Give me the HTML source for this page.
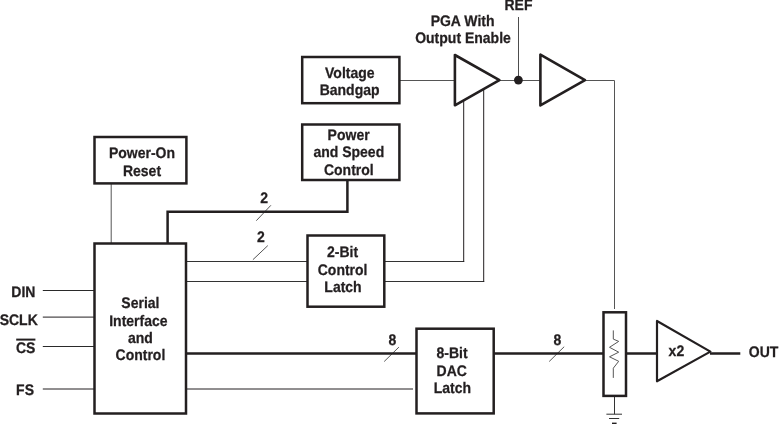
<!DOCTYPE html>
<html><head><meta charset="utf-8"><style>
html,body{margin:0;padding:0;background:#fff;width:779px;height:424px;overflow:hidden}
svg{display:block;will-change:transform}
text{text-rendering:geometricPrecision;font-family:"Liberation Sans",sans-serif;font-weight:bold;font-size:14px;fill:#231f20;stroke:#231f20;stroke-width:0.25px}
</style></head><body>
<svg width="779" height="424" viewBox="0 0 779 424">
<g fill="none" stroke-width="1">
  <path stroke="#555" d="M399.4 80.5H455M500 80.5H540.4M585 80.5H614.5V309"/>
  <path stroke="#4d4d4d" d="M518.5 17V80"/>
  <path stroke="#555" d="M111.2 183V243.5"/>
  <path stroke="#333" d="M186 261.5H307.3M186 281.5H307.3"/>
  <path stroke="#333" d="M384.2 261.5H464.2"/>
  <path stroke="#333" d="M384.2 281.5H484.2"/>
  <path stroke="#231f20" d="M463.7 262V100.5M483.7 282V89.3"/>
  <path stroke="#2a2a2a" d="M42.8 290.5H94.5M42.8 346.5H94.5"/>
  <path stroke="#231f20" d="M42.8 317.1H94.5M42.8 389H94.5M186 389H413"/>
  <path stroke="#333" d="M614.5 396V414.2M606.4 414.2H622M609 418.5H619.2"/><path stroke="#231f20" stroke-width="1.6" d="M612 423.4H616.6"/>
  <path stroke="#555" d="M256.3 220.7L270.9 205.3M252.9 259.7L267.8 245.6M384.2 361.5L398.9 347.1M549.2 361.5L564.2 346.7"/>
  <path stroke="#555" d="M613.3 330.4V339.1L618.7 341.4L609.5 347.3L618.7 352.2L609.5 356.8L618.7 361.3L613.3 368.2V377.9"/>
</g>
<g fill="none" stroke="#231f20" stroke-width="2.5">
  <path d="M167.6 243.5V211.8H347.4V180"/>
  <path d="M186 353.6H416.5M494.2 353.6H603.5M626 353.6H657M710 353.6H740.3"/>
  <rect x="302.2" y="57" width="97.2" height="46.2"/>
  <rect x="302.2" y="124.5" width="97.2" height="55.5"/>
  <rect x="94.5" y="137" width="91.9" height="46.4"/>
  <rect x="94.5" y="243.5" width="91.5" height="170"/>
  <rect x="307.5" y="235.5" width="76.8" height="71.2"/>
  <rect x="416.5" y="328.7" width="77.2" height="84.7"/>
  <rect x="603.5" y="312.3" width="22.5" height="83.6"/>
  <path stroke-width="2.6" stroke-linejoin="round" d="M454.9 55V105.3L499.4 80.2Z"/>
  <path stroke-width="2.6" stroke-linejoin="round" d="M540.4 54.6V105.4L585 80.2Z"/>
  <path stroke-width="2.2" stroke-linejoin="round" d="M657 321V381.3L710.4 351.6Z"/>
</g>
<circle cx="518.4" cy="80.1" r="4.4" fill="#231f20"/>
<path d="M16.2 339.6H35.4" stroke="#231f20" stroke-width="2"/>

 <text transform="translate(518.5 10) scale(1 1.09)" text-anchor="middle">REF</text>
 <text transform="translate(462.6 26.0) scale(1 1.09)" text-anchor="middle">PGA With</text>
 <text transform="translate(463 42.5) scale(1 1.09)" text-anchor="middle">Output Enable</text>
 <text transform="translate(349.8 77.8) scale(1 1.09)" text-anchor="middle">Voltage</text>
 <text transform="translate(349.6 94.7) scale(1 1.09)" text-anchor="middle">Bandgap</text>
 <text transform="translate(348.6 139.5) scale(1 1.09)" text-anchor="middle">Power</text>
 <text transform="translate(348.8 156.8) scale(1 1.09)" text-anchor="middle">and Speed</text>
 <text transform="translate(348.8 175.1) scale(1 1.09)" text-anchor="middle">Control</text>
 <text transform="translate(142 157.6) scale(1 1.09)" text-anchor="middle">Power-On</text>
 <text transform="translate(142 175.6) scale(1 1.09)" text-anchor="middle">Reset</text>
 <text transform="translate(140.4 307.6) scale(1 1.09)" text-anchor="middle">Serial</text>
 <text transform="translate(138.4 326.0) scale(1 1.09)" text-anchor="middle">Interface</text>
 <text transform="translate(140.4 342.8) scale(1 1.09)" text-anchor="middle">and</text>
 <text transform="translate(140.4 360.0) scale(1 1.09)" text-anchor="middle">Control</text>
 <text transform="translate(342.6 257.4) scale(1 1.09)" text-anchor="middle">2-Bit</text>
 <text transform="translate(342.6 275.0) scale(1 1.09)" text-anchor="middle">Control</text>
 <text transform="translate(343.0 292.2) scale(1 1.09)" text-anchor="middle">Latch</text>
 <text transform="translate(452.0 357.7) scale(1 1.09)" text-anchor="middle">8-Bit</text>
 <text transform="translate(451.7 375.6) scale(1 1.09)" text-anchor="middle">DAC</text>
 <text transform="translate(452.3 393.0) scale(1 1.09)" text-anchor="middle">Latch</text>
 <text transform="translate(264.2 202.7) scale(1 1.09)" text-anchor="middle">2</text>
 <text transform="translate(261 242.3) scale(1 1.09)" text-anchor="middle">2</text>
 <text transform="translate(392.4 344.8) scale(1 1.09)" text-anchor="middle">8</text>
 <text transform="translate(557.5 344.8) scale(1 1.09)" text-anchor="middle">8</text>
 <text transform="translate(676.4 356.1) scale(1 1.09)" text-anchor="middle">x2</text>
 <text transform="translate(35.4 296.9) scale(1 1.09)" text-anchor="end">DIN</text>
 <text transform="translate(37.8 324.6) scale(1 1.09)" text-anchor="end">SCLK</text>
 <text transform="translate(35.4 353.1) scale(1 1.09)" text-anchor="end">CS</text>
 <text transform="translate(34 395.4) scale(1 1.09)" text-anchor="end">FS</text>
 <text transform="translate(748.8 356.5) scale(1 1.09)" text-anchor="start">OUT</text>
</svg>
</body></html>
